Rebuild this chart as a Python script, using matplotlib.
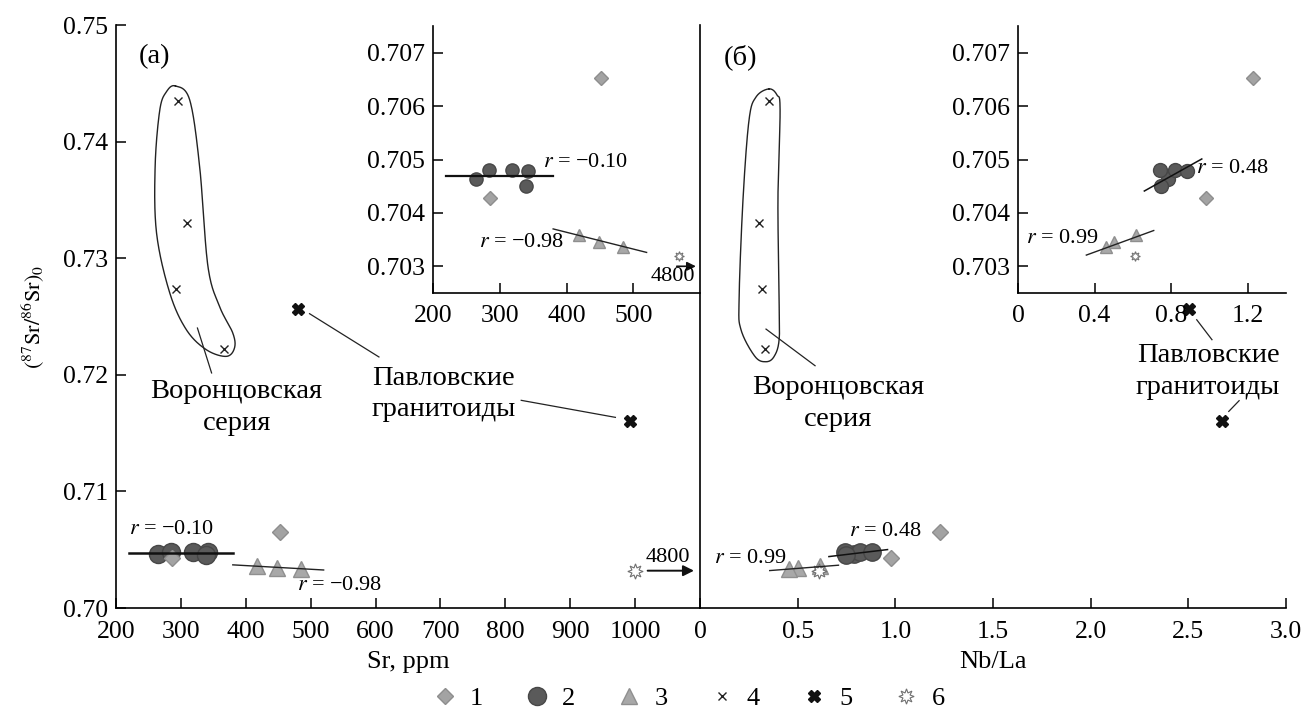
import numpy as np
import matplotlib.pyplot as plt
from matplotlib.lines import Line2D
from matplotlib.ticker import FormatStrFormatter

plt.rcParams['font.family'] = ['Liberation Serif', 'DejaVu Serif']
plt.rcParams['mathtext.fontset'] = 'stix'

# group 1 - diamonds
sr1 = [452, 286]
nb1 = [1.23, 0.98]
y1 = [0.70653, 0.70427]
# group 2 - dark circles
sr2 = [264, 284, 319, 342, 339]
nb2 = [0.786, 0.742, 0.821, 0.883, 0.746]
y2 = [0.70463, 0.70480, 0.70481, 0.70479, 0.70451]
# group 3 - triangles
sr3 = [418, 448, 485]
nb3 = [0.615, 0.504, 0.458]
y3 = [0.70358, 0.70346, 0.70336]
# group 4 - Voronts. series
sr4 = [296, 309, 292, 367]
nb4 = [0.355, 0.300, 0.315, 0.333]
y4 = [0.7435, 0.7330, 0.7274, 0.7222]
# group 5 - Pavlovsk granitoids
sr5 = [480, 992]
nb5 = [2.505, 2.673]
y5 = [0.72564, 0.71607]
# group 6 - Sr = 4800, shown at the edge
sr6_label = '4800'
sr6_main = [1000]
sr6_inset = [568]
nb6 = [0.609]
y6 = [0.7032]

# trend lines as drawn
fit2_sr, fit2_sr_y = [220, 380], [0.70470, 0.70470]
fit3_sr, fit3_sr_y = [380, 520], [0.70370, 0.70326]
fit2_nb, fit2_nb_y = [0.66, 0.96], [0.70441, 0.70501]
fit3_nb, fit3_nb_y = [0.357, 0.709], [0.70321, 0.70367]

# envelopes around group 4
env_sr = [291.6, 313.6, 328.9, 341.7, 359.6, 380.0, 382.6, 369.9, 339.2, 308.5, 282.9, 262.5, 260.3, 267.5, 277.8]
env_sr_y = [0.74477, 0.74357, 0.73786, 0.72929, 0.72586, 0.72358, 0.72230, 0.72158, 0.72215, 0.72386, 0.72701, 0.73215, 0.73786, 0.74272, 0.74428]
env_nb = [0.353, 0.394, 0.410, 0.399, 0.405, 0.405, 0.379, 0.338, 0.282, 0.210, 0.200, 0.220, 0.251, 0.287]
env_nb_y = [0.74452, 0.74400, 0.74272, 0.73500, 0.72644, 0.72301, 0.72156, 0.72112, 0.72156, 0.72386, 0.72644, 0.73500, 0.74186, 0.74383]


def smooth_closed(xs, ys, n=24):
    P = np.column_stack([xs, ys])
    m = len(P)
    t = np.linspace(0, 1, n, endpoint=False)[:, None]
    out = []
    for i in range(m):
        p0, p1, p2, p3 = P[i - 1], P[i], P[(i + 1) % m], P[(i + 2) % m]
        out.append(0.5 * (2 * p1 + (-p0 + p2) * t + (2 * p0 - 5 * p1 + 4 * p2 - p3) * t ** 2
                          + (-p0 + 3 * p1 - 3 * p2 + p3) * t ** 3))
    out = np.vstack(out + [out[0][:1]])
    return out[:, 0], out[:, 1]


st1 = dict(marker='D', color='#a3a3a3', mec='#8e8e8e', ls='none')
st2 = dict(marker='o', color='#5a5a5a', mec='#474747', ls='none')
st3 = dict(marker='^', color='#a8a8a8', mec='#8f8f8f', ls='none')
st4 = dict(marker='x', color='#222222', mew=1.0, ls='none')
st5 = dict(marker='X', color='#111111', mec='#111111', ls='none')
st6 = dict(marker=(8, 1, 0), mfc='white', mec='#707070', mew=0.8, ls='none')

LBL = 20.5  # size of the text labels

W, H = 1305, 713
fig = plt.figure(figsize=(W / 100, H / 100), dpi=100)


def px_axes(x0, x1, y0, y1):
    return fig.add_axes([x0 / W, 1 - y1 / H, (x1 - x0) / W, (y1 - y0) / H])


axL = px_axes(116, 700, 25, 608)
axR = px_axes(700, 1286, 25, 608)
axA = px_axes(433, 700, 26, 293)
axB = px_axes(1018, 1286, 26, 293)

for ax in (axL, axR, axA, axB):
    ax.set_facecolor('none')
    ax.spines['top'].set_visible(False)
    ax.spines['right'].set_visible(False)
    for s in ('left', 'bottom'):
        ax.spines[s].set_linewidth(1.2)
    ax.tick_params(direction='in', length=7, width=1.1, labelsize=18.5)
    ax.tick_params(axis='x', pad=9)
    ax.tick_params(axis='y', pad=6)

# ---- main (a)
axL.set_xlim(200, 1100)
axL.set_ylim(0.70, 0.75)
axL.set_xticks(np.arange(200, 1001, 100))
axL.set_yticks(np.arange(0.70, 0.7501, 0.01))
axL.yaxis.set_major_formatter(FormatStrFormatter('%.2f'))
axL.set_xlabel('Sr, ppm', fontsize=19)
axL.xaxis.set_label_coords(0.5, -0.074)
axL.set_ylabel(r'$(^{87}\mathrm{Sr}/^{86}\mathrm{Sr})_0$', fontsize=16)
axL.yaxis.set_label_coords(-0.12, 0.5)

ex, ey = smooth_closed(env_sr, env_sr_y)
axL.plot(ex, ey, color='#222222', lw=1.0)
axL.plot(fit2_sr, fit2_sr_y, color='#111111', lw=1.8, zorder=3)
axL.plot(fit3_sr, fit3_sr_y, color='#222222', lw=1.0, zorder=3)
axL.plot(sr2, y2, ms=13, zorder=2, **st2)
axL.plot(sr1, y1, ms=8.5, zorder=2.5, **st1)
axL.plot(sr3, y3, ms=12, zorder=2, **st3)
axL.plot(sr4, y4, ms=6, **st4)
axL.plot(sr5, y5, ms=9, **st5)
axL.plot(sr6_main, y6, ms=11, **st6)
axL.annotate('', xy=(1095, y6[0]), xytext=(1015, y6[0]),
             arrowprops=dict(arrowstyle='-|>', color='#111111', lw=1.4, mutation_scale=16))
axL.text(1050, y6[0] + 0.0011, sr6_label, fontsize=16, ha='center', va='center')
axL.text(285, 0.70673, r'$r$ = −0.10', fontsize=16, ha='center', va='center')
axL.text(544, 0.70193, r'$r$ = −0.98', fontsize=16, ha='center', va='center')
axL.text(260, 0.74728, '(a)', fontsize=LBL, ha='center', va='center')
axL.text(386, 0.71718, 'Воронцовская\nсерия', fontsize=LBL, ha='center', va='center', linespacing=1.4)
axL.plot([325.5, 347.3], [0.72401, 0.72016], color='#222222', lw=0.9)
axL.text(705, 0.71838, 'Павловские\nгранитоиды', fontsize=LBL, ha='center', va='center', linespacing=1.3)
axL.plot([498.3, 605.2], [0.72524, 0.72153], color='#222222', lw=0.9)
axL.plot([824.5, 969.6], [0.71781, 0.71635], color='#222222', lw=0.9)

# ---- main (б)
axR.set_xlim(0, 3.0)
axR.set_ylim(0.70, 0.75)
axR.set_xticks(np.arange(0, 3.01, 0.5))
axR.set_xticklabels(['0', '0.5', '1.0', '1.5', '2.0', '2.5', '3.0'])
axR.tick_params(axis='y', left=False, labelleft=False)
axR.set_xlabel('Nb/La', fontsize=19)
axR.xaxis.set_label_coords(0.5, -0.074)

ex, ey = smooth_closed(env_nb, env_nb_y)
axR.plot(ex, ey, color='#222222', lw=1.0)
axR.plot(fit2_nb, fit2_nb_y, color='#111111', lw=1.1, zorder=3)
axR.plot(fit3_nb, fit3_nb_y, color='#222222', lw=1.0, zorder=3)
axR.plot(nb2, y2, ms=12.5, zorder=2, **st2)
axR.plot(nb1, y1, ms=8.5, **st1)
axR.plot(nb3, y3, ms=12, zorder=2, **st3)
axR.plot(nb6, y6, ms=11, zorder=2.5, **st6)
axR.plot(nb4, y4, ms=6, **st4)
axR.plot(nb5, y5, ms=9, **st5)
axR.text(0.947, 0.70658, r'$r$ = 0.48', fontsize=16, ha='center', va='center')
axR.text(0.256, 0.70422, r'$r$ = 0.99', fontsize=16, ha='center', va='center')
axR.text(0.207, 0.74728, '(б)', fontsize=LBL, ha='center', va='center')
axR.text(0.707, 0.71752, 'Воронцовская\nсерия', fontsize=LBL, ha='center', va='center', linespacing=1.35)
axR.plot([0.338, 0.589], [0.72392, 0.72078], color='#222222', lw=0.9)
axR.text(2.601, 0.72029, 'Павловские\nгранитоиды', fontsize=LBL, ha='center', va='center', linespacing=1.35)
axR.plot([2.543, 2.621], [0.72472, 0.72301], color='#222222', lw=0.9)
axR.plot([2.760, 2.707], [0.71778, 0.71686], color='#222222', lw=0.9)

# ---- inset (a)
axA.set_xlim(200, 600)
axA.set_ylim(0.7025, 0.7075)
axA.set_xticks([200, 300, 400, 500])
axA.set_yticks([0.703, 0.704, 0.705, 0.706, 0.707])
axA.yaxis.set_major_formatter(FormatStrFormatter('%.3f'))
axA.plot(fit2_sr, fit2_sr_y, color='#111111', lw=1.6, zorder=3)
axA.plot(fit3_sr, fit3_sr_y, color='#222222', lw=1.0, zorder=3)
axA.plot(sr2, y2, ms=9.5, **st2)
axA.plot(sr1, y1, ms=7, **st1)
axA.plot(sr3, y3, ms=9, **st3)
axA.plot(sr6_inset, y6, ms=7, **st6)
axA.annotate('', xy=(598, y6[0] - 0.0002), xytext=(561, y6[0] - 0.0002),
             arrowprops=dict(arrowstyle='-|>', color='#111111', lw=1.2, mutation_scale=13))
axA.text(560, y6[0] - 0.00040, sr6_label, fontsize=16, ha='center', va='center')
axA.text(428, 0.70494, r'$r$ = −0.10', fontsize=16, ha='center', va='center')
axA.text(333, 0.70344, r'$r$ = −0.98', fontsize=16, ha='center', va='center')

# ---- inset (б)
axB.set_xlim(0, 1.4)
axB.set_ylim(0.7025, 0.7075)
axB.set_xticks([0, 0.4, 0.8, 1.2])
axB.set_xticklabels(['0', '0.4', '0.8', '1.2'])
axB.set_yticks([0.703, 0.704, 0.705, 0.706, 0.707])
axB.yaxis.set_major_formatter(FormatStrFormatter('%.3f'))
axB.plot(fit2_nb, fit2_nb_y, color='#111111', lw=1.1, zorder=3)
axB.plot(fit3_nb, fit3_nb_y, color='#222222', lw=1.0, zorder=3)
axB.plot(nb2, y2, ms=10, **st2)
axB.plot(nb1, y1, ms=7, **st1)
axB.plot(nb3, y3, ms=9, **st3)
axB.plot(nb6, y6, ms=7, **st6)
axB.text(1.117, 0.70484, r'$r$ = 0.48', fontsize=16, ha='center', va='center')
axB.text(0.232, 0.70352, r'$r$ = 0.99', fontsize=16, ha='center', va='center')

# ---- legend
handles = [Line2D([], [], ms=8.5, **st1), Line2D([], [], ms=13, **st2),
           Line2D([], [], ms=12, **st3), Line2D([], [], ms=6, **st4),
           Line2D([], [], ms=9, **st5), Line2D([], [], ms=11, **st6)]
fig.legend(handles, ['1', '2', '3', '4', '5', '6'], loc='center',
           bbox_to_anchor=(688 / W, 1 - 698 / H), ncol=6, frameon=False, fontsize=19,
           handlelength=1.0, handletextpad=0.45, columnspacing=1.55)

fig.savefig('out.png', dpi=100)
